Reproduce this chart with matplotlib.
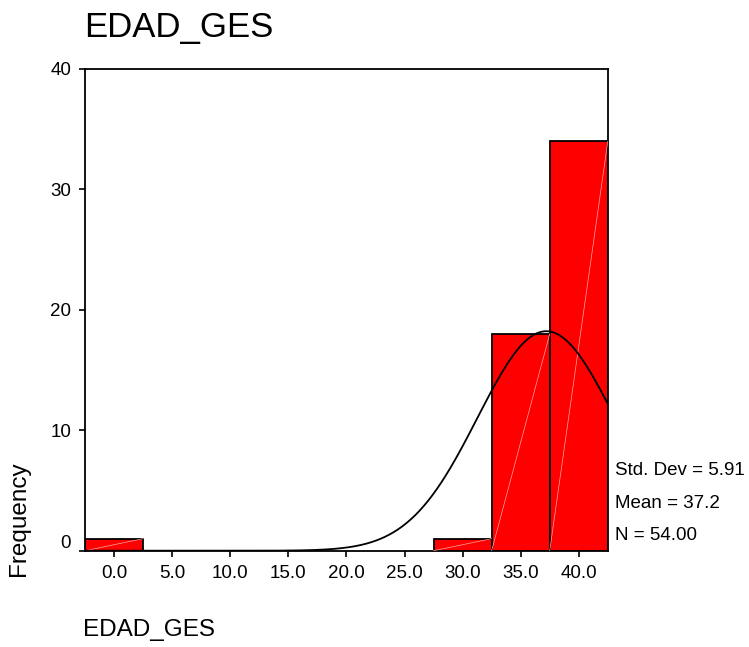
import numpy as np
import matplotlib
matplotlib.use("Agg")
import matplotlib.pyplot as plt
import matplotlib.transforms as mtransforms

plt.rcParams['font.family'] = ['Liberation Sans', 'DejaVu Sans']

# Histogram of EDAD_GES: bin centres (width 5) and counts
bin_centers = [0, 5, 10, 15, 20, 25, 30, 35, 40]
counts = [1, 0, 0, 0, 0, 0, 1, 18, 34]
bin_width = 5.0

# Summary statistics shown beside the chart
std_dev = 5.91
mean_val = 37.2
n_total = 54

x_ticks = [0, 5, 10, 15, 20, 25, 30, 35, 40]
x_tick_labels = ["0.0", "5.0", "10.0", "15.0", "20.0", "25.0", "30.0", "35.0", "40.0"]
y_ticks = [0, 10, 20, 30, 40]

fig = plt.figure(figsize=(7.49, 6.47), dpi=100)
ax = fig.add_axes([0.1135, 0.1488, 0.698, 0.7446])

lefts = np.array(bin_centers) - bin_width / 2
for left, h in zip(lefts, counts):
    if h <= 0:
        continue
    ax.bar(left, h, width=bin_width, align='edge', color='#ff0000',
           edgecolor='black', linewidth=1.3, zorder=2)
    # faint diagonal streak across each bar
    ax.plot([left, left + bin_width], [0, h], color='#ffa8a8',
            linewidth=0.5, zorder=3)

# Normal curve scaled to the histogram
xs = np.linspace(-2.5, 42.5, 600)
ys = n_total * bin_width / (std_dev * np.sqrt(2 * np.pi)) * \
    np.exp(-0.5 * ((xs - mean_val) / std_dev) ** 2)
ax.plot(xs, ys, color='black', linewidth=1.3, zorder=4)

ax.set_xlim(-2.5, 42.5)
ax.set_ylim(0, 40)
ax.set_xticks(x_ticks)
ax.set_xticklabels(x_tick_labels)
ax.set_yticks(y_ticks)
ax.tick_params(direction='out', length=4, width=1.2, labelsize=13.5, pad=6)
for sp in ax.spines.values():
    sp.set_linewidth(1.3)

# the zero label on the y axis sits a little above its tick
fig.canvas.draw()
zero_label = ax.get_yticklabels()[0]
zero_label.set_transform(zero_label.get_transform() +
                         mtransforms.ScaledTranslation(0, 9 / 100, fig.dpi_scale_trans))

ax.text(1.014, (550.7 - 470) / 482, f"Std. Dev = {std_dev:.2f}",
        transform=ax.transAxes, fontsize=13.5, va='center', ha='left')
ax.text(1.014, (550.7 - 503) / 482, f"Mean = {mean_val:.1f}",
        transform=ax.transAxes, fontsize=13.5, va='center', ha='left')
ax.text(1.014, (550.7 - 535) / 482, f"N = {n_total:.2f}",
        transform=ax.transAxes, fontsize=13.5, va='center', ha='left')

fig.text(84 / 749, 1 - 37.3 / 647, "EDAD_GES", fontsize=25, ha='left', va='baseline')
fig.text(83 / 749, 1 - 630 / 647, "EDAD_GES", fontsize=17.5, ha='left', va='center')
fig.text(19 / 749, 1 - 519 / 647, "Frequency", fontsize=17.5, rotation=90,
         ha='center', va='center')

fig.savefig("out.png", dpi=100)
